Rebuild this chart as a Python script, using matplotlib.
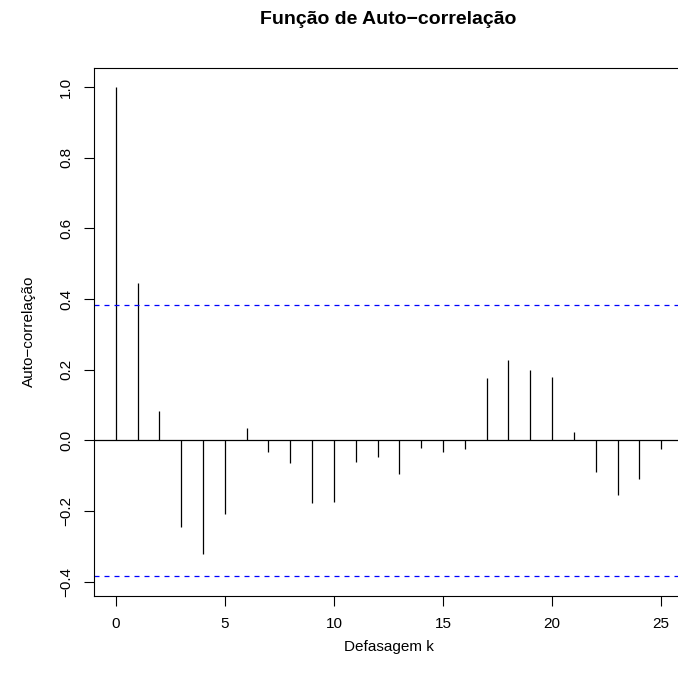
import matplotlib
matplotlib.use("Agg")
import matplotlib.pyplot as plt
import numpy as np

plt.rcParams["font.family"] = ["Liberation Sans", "DejaVu Sans"]

# sample autocorrelation by lag
lags = np.arange(0, 26)
acf_values = [1.000, 0.445, 0.082, -0.246, -0.320, -0.207, 0.034, -0.034,
              -0.065, -0.178, -0.173, -0.060, -0.048, -0.096, -0.020, -0.034,
              -0.025, 0.178, 0.227, 0.200, 0.180, 0.025, -0.088, -0.153,
              -0.108, -0.025]
n_obs = 26
conf_limit = 1.96 / np.sqrt(n_obs)

fig = plt.figure(figsize=(6.78, 6.82), dpi=100)
ax_left, ax_width = 0.1386, 0.8687
ax = fig.add_axes([ax_left, 0.1262, ax_width, 0.7747])

ax.vlines(lags, 0, acf_values, color="black", linewidth=0.9)
ax.axhline(0, color="black", linewidth=0.9)
ax.axhline(conf_limit, color="blue", linestyle=(0, (4, 4)), linewidth=0.9)
ax.axhline(-conf_limit, color="blue", linestyle=(0, (4, 4)), linewidth=0.9)

ax.set_xlim(-1, 26)
ax.set_ylim(-0.44, 1.055)
ax.set_xticks([0, 5, 10, 15, 20, 25])
ax.set_yticks([-0.4, -0.2, 0.0, 0.2, 0.4, 0.6, 0.8, 1.0])
ax.set_yticklabels(["\u22120.4", "\u22120.2", "0.0", "0.2", "0.4", "0.6", "0.8", "1.0"],
                   rotation=90, va="center")
ax.tick_params(direction="out", length=7, width=0.8, labelsize=11, pad=8)
for s in ax.spines.values():
    s.set_linewidth(0.8)

ax.set_xlabel("Defasagem k", fontsize=11, labelpad=7)
ax.set_ylabel("Auto\u2212correlação", fontsize=11, labelpad=17)
fig.text(ax_left + ax_width / 2, 0.971, "Função de Auto\u2212correlação",
         fontsize=14, fontweight="bold", ha="center", va="center")

fig.savefig("out.png", dpi=100)
